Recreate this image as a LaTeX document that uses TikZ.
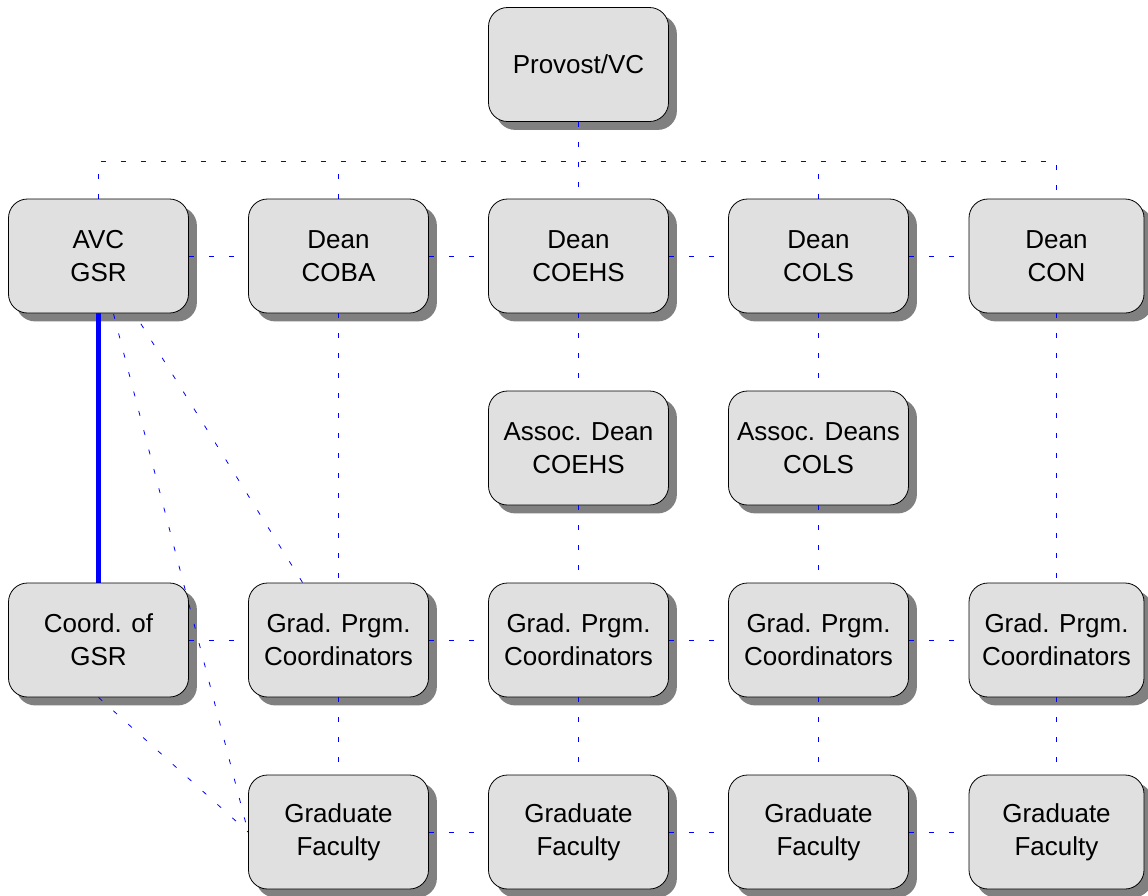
\documentclass[tikz,border=0pt]{standalone}
\usepackage{fontspec}
\setmainfont{Liberation Sans}
\usetikzlibrary{calc}
\pgfdeclarelayer{shadowlayer}
\pgfdeclarelayer{linelayer}
\pgfsetlayers{shadowlayer,linelayer,main}
\definecolor{boxfill}{HTML}{E0E0E0}
\definecolor{shadowgray}{HTML}{808080}
\tikzset{
  orgbox/.style={draw=black, line width=0.8pt, fill=boxfill, rounded corners=19pt,
    minimum width=180pt, minimum height=114pt, inner sep=0pt, align=center,
    font=\fontsize{26}{33}\selectfont},
  narrowbox/.style={orgbox, minimum width=175pt},
  conn/.style={blue, line width=0.8pt, dash pattern=on 5pt off 15pt},
  thickconn/.style={blue, line width=5pt},
}
\begin{document}
\begin{tikzpicture}[x=1pt, y=-1pt]
\useasboundingbox (0,0) rectangle (1148,895);
% row 0
\node[orgbox] (prov) at (578.5,64.5) {Provost/VC};
% row 1
\node[orgbox] (avc) at (98.5,256) {AVC\\GSR};
\node[orgbox] (coba) at (338.5,256) {Dean\\COBA};
\node[orgbox] (coehs) at (578.5,256) {Dean\\COEHS};
\node[orgbox] (cols) at (818.5,256) {Dean\\COLS};
\node[narrowbox] (con) at (1056.5,256) {Dean\\CON};
% row 2
\node[orgbox] (adcoehs) at (578.5,448) {Assoc. Dean\\COEHS};
\node[orgbox] (adcols) at (818.5,448) {Assoc. Deans\\COLS};
% row 3
\node[orgbox] (cgsr) at (98.5,640) {Coord. of\\GSR};
\node[orgbox] (gpcoba) at (338.5,640) {Grad. Prgm.\\Coordinators};
\node[orgbox] (gpcoehs) at (578.5,640) {Grad. Prgm.\\Coordinators};
\node[orgbox] (gpcols) at (818.5,640) {Grad. Prgm.\\Coordinators};
\node[narrowbox] (gpcon) at (1056.5,640) {Grad. Prgm.\\Coordinators};
% row 4
\node[orgbox] (gfcoba) at (338.5,832) {Graduate\\Faculty};
\node[orgbox] (gfcoehs) at (578.5,832) {Graduate\\Faculty};
\node[orgbox] (gfcols) at (818.5,832) {Graduate\\Faculty};
\node[narrowbox] (gfcon) at (1056.5,832) {Graduate\\Faculty};

\begin{pgfonlayer}{shadowlayer}
\foreach \n in {prov,avc,coba,coehs,cols,con,adcoehs,adcols,cgsr,gpcoba,gpcoehs,gpcols,gpcon,gfcoba,gfcoehs,gfcols,gfcon}{
  \fill[shadowgray, rounded corners=19pt] ($(\n.south west)+(8,8)$) rectangle ($(\n.north east)+(8,8)$);
}
\end{pgfonlayer}

\begin{pgfonlayer}{linelayer}
\coordinate (bus) at (578.5,161);
\draw[conn] (prov.south) -- (coehs.north);
\draw[conn] (avc.north) -- (avc.north |- bus) -- (con.north |- bus) -- (con.north);
\draw[conn] (coba.north) -- (coba.north |- bus);
\draw[conn] (cols.north) -- (cols.north |- bus);
% row 1 horizontals
\draw[conn] (avc.east) -- (coba.west);
\draw[conn] (coba.east) -- (coehs.west);
\draw[conn] (coehs.east) -- (cols.west);
\draw[conn] (cols.east) -- (con.west);
% row 3 horizontals
\draw[conn] (cgsr.east) -- (gpcoba.west);
\draw[conn] (gpcoba.east) -- (gpcoehs.west);
\draw[conn] (gpcoehs.east) -- (gpcols.west);
\draw[conn] (gpcols.east) -- (gpcon.west);
% row 4 horizontals
\draw[conn] (gfcoba.east) -- (gfcoehs.west);
\draw[conn] (gfcoehs.east) -- (gfcols.west);
\draw[conn] (gfcols.east) -- (gfcon.west);
% verticals
\draw[conn] (coba.south) -- (gpcoba.north);
\draw[conn] (gpcoba.south) -- (gfcoba.north);
\draw[conn] (coehs.south) -- (adcoehs.north);
\draw[conn] (adcoehs.south) -- (gpcoehs.north);
\draw[conn] (gpcoehs.south) -- (gfcoehs.north);
\draw[conn] (cols.south) -- (adcols.north);
\draw[conn] (adcols.south) -- (gpcols.north);
\draw[conn] (gpcols.south) -- (gfcols.north);
\draw[conn] (con.south) -- (gpcon.north);
\draw[conn] (gpcon.south) -- (gfcon.north);
% diagonals
\draw[conn] (avc.center) -- (gpcoba.center);
\draw[conn] (avc.center) -- (gfcoba.west);
\draw[conn] (cgsr.south) -- (gfcoba.west);
% thick
\draw[thickconn] (avc.south) -- (cgsr.north);
\end{pgfonlayer}
\end{tikzpicture}
\end{document}
